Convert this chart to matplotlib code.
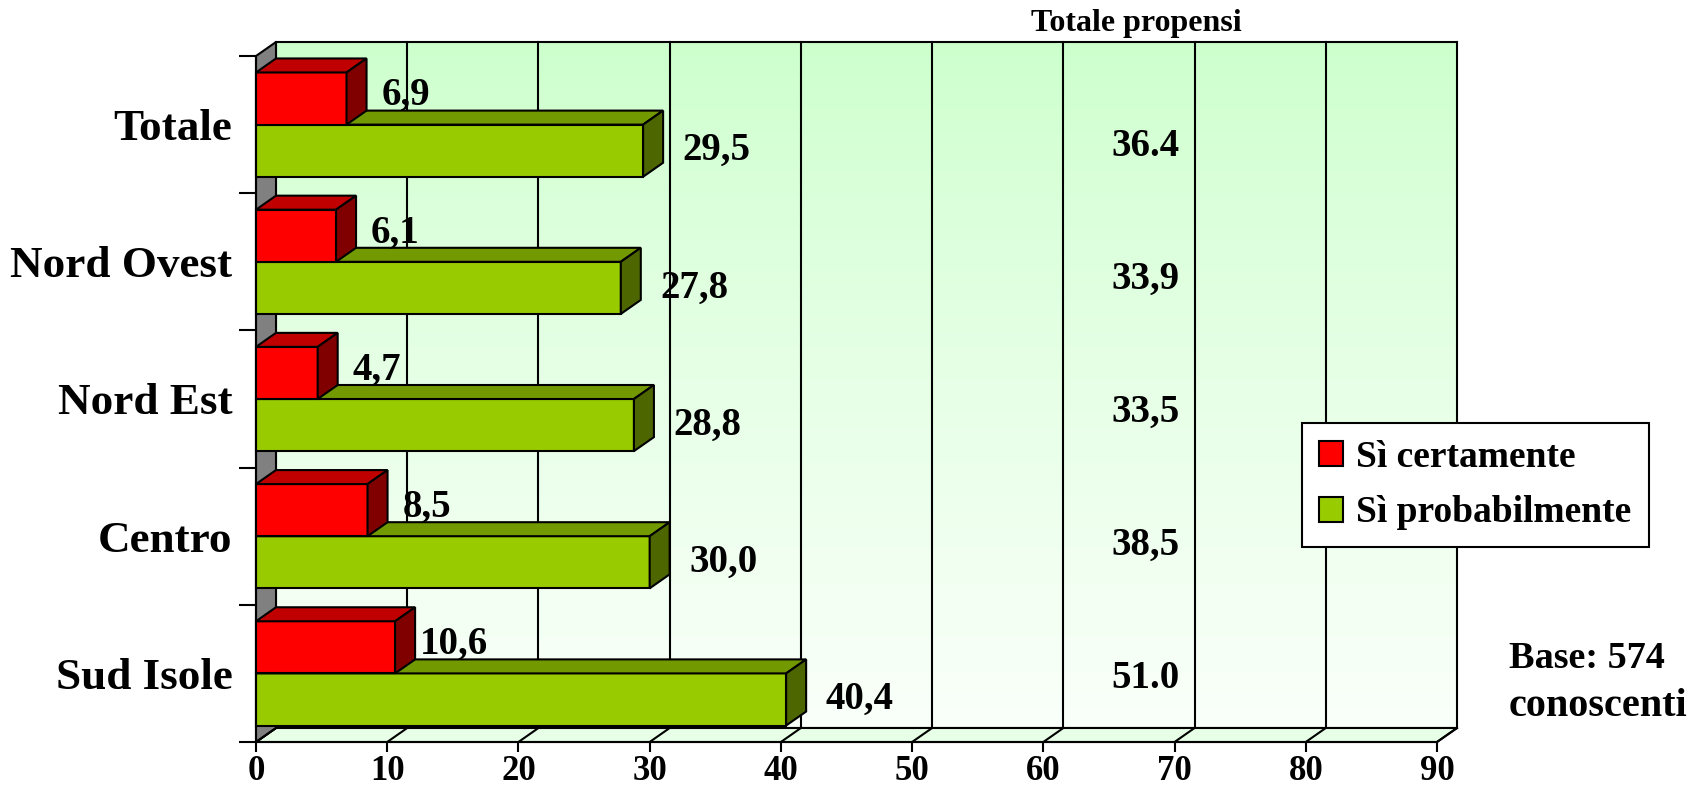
import matplotlib
matplotlib.use("Agg")
import matplotlib.pyplot as plt
import numpy as np
from matplotlib.patches import Polygon, Patch

# data (top to bottom)
categories = ["Totale", "Nord Ovest", "Nord Est", "Centro", "Sud Isole"]
si_certamente = [6.9, 6.1, 4.7, 8.5, 10.6]
si_probabilmente = [29.5, 27.8, 28.8, 30.0, 40.4]
totale_propensi = ["36.4", "33,9", "33,5", "38,5", "51.0"]
x_ticks = [0, 10, 20, 30, 40, 50, 60, 70, 80, 90]

plt.rcParams['font.family'] = ['Liberation Serif', 'DejaVu Serif']
plt.rcParams['font.weight'] = 'bold'

W, H = 1701, 797
fig = plt.figure(figsize=(W / 100, H / 100), dpi=100)

# front plane in pixels, plus 3D depth offset
x0_px, x90_px = 256, 1437
ybot_px, ytop_px = 742, 56
dx_px, dy_px = 20, 14
n = len(categories)
sx = (x90_px - x0_px) / 90.0
sy = (ybot_px - ytop_px) / n
ddx = dx_px / sx
ddy = dy_px / sy

ax = fig.add_axes([x0_px / W, (H - ybot_px) / H,
                   (x90_px + dx_px - x0_px) / W, (ybot_px - ytop_px + dy_px) / H])
ax.set_xlim(0, 90 + ddx)
ax.set_ylim(0, n + ddy)
for s in ax.spines.values():
    s.set_visible(False)
ax.patch.set_visible(False)

lw = 1.5
K = "black"

# back wall with gradient
grad = np.linspace(0, 1, 256).reshape(-1, 1)
top_c = np.array([0.80, 1.0, 0.80])
bot_c = np.array([0.98, 1.0, 0.98])
img = top_c * (1 - grad[..., None] ** 0.8) + bot_c * (grad[..., None] ** 0.8)
img = img[::-1]
ax.imshow(img, extent=(ddx, 90 + ddx, ddy, n + ddy), aspect="auto",
          origin="lower", zorder=0, clip_on=False)

# back wall grid lines and border
for xv in x_ticks:
    ax.plot([xv + ddx, xv + ddx], [ddy, n + ddy], color=K, lw=lw, zorder=1, clip_on=False)
ax.plot([ddx, 90 + ddx], [n + ddy, n + ddy], color=K, lw=lw, zorder=1, clip_on=False)
ax.plot([ddx, 90 + ddx], [ddy, ddy], color=K, lw=lw, zorder=1, clip_on=False)

# floor
floor = Polygon([(0, 0), (90, 0), (90 + ddx, ddy), (ddx, ddy)], closed=True,
                facecolor="#E6FFE6", edgecolor=K, lw=lw, zorder=1.5, clip_on=False)
ax.add_patch(floor)
for xv in x_ticks:
    ax.plot([xv, xv + ddx], [0, ddy], color=K, lw=lw, zorder=1.6, clip_on=False)

# left side wall
side = Polygon([(0, 0), (ddx, ddy), (ddx, n + ddy), (0, n)], closed=True,
               facecolor="#808080", edgecolor=K, lw=lw, zorder=1.5, clip_on=False)
ax.add_patch(side)


def box(x, y, w, h, front, top, right, z):
    ax.add_patch(Polygon([(x, y), (x + w, y), (x + w, y + h), (x, y + h)],
                         facecolor=front, edgecolor=K, lw=lw, zorder=z, clip_on=False))
    ax.add_patch(Polygon([(x, y + h), (x + w, y + h), (x + w + ddx, y + h + ddy), (x + ddx, y + h + ddy)],
                         facecolor=top, edgecolor=K, lw=lw, zorder=z, clip_on=False))
    ax.add_patch(Polygon([(x + w, y), (x + w + ddx, y + ddy), (x + w + ddx, y + h + ddy), (x + w, y + h)],
                         facecolor=right, edgecolor=K, lw=lw, zorder=z, clip_on=False))


bar_h = 0.38
label_fs = 28
for i, cat in enumerate(categories):
    c = n - 0.5 - i
    g = si_probabilmente[i]
    r = si_certamente[i]
    box(0, c - bar_h, g, bar_h, "#99CC00", "#739900", "#4D6600", 3 + i * 0.1)
    box(0, c, r, bar_h, "#FF0000", "#C00000", "#800000", 3.05 + i * 0.1)
    ax.text(r + 4.5, c + 0.21, f"{r:.1f}".replace(".", ","), ha="center", va="center",
            fontsize=label_fs, fontweight="bold", zorder=6)
    ax.text(g + 5.6, c - bar_h / 2, f"{g:.1f}".replace(".", ","), ha="center", va="center",
            fontsize=label_fs, fontweight="bold", zorder=6)
    ax.text(67.8, c - 0.16 + 0.03 * i, totale_propensi[i], ha="center", va="center",
            fontsize=label_fs, fontweight="bold", zorder=6)

ax.text(67.1, n + ddy + 0.03, "Totale propensi", ha="center", va="bottom",
        fontsize=23, fontweight="bold")

# front axis lines
ax.plot([0, 90], [0, 0], color=K, lw=lw, zorder=7, clip_on=False)
ax.plot([0, 0], [0, n], color=K, lw=lw, zorder=7, clip_on=False)

ax.set_xticks(x_ticks)
ax.set_xticklabels([str(v) for v in x_ticks], fontsize=25, fontweight="bold")
ax.tick_params(axis="x", direction="out", length=7.5, width=lw, pad=2)
ax.set_yticks(range(n + 1))
ax.set_yticklabels([])
ax.tick_params(axis="y", which="major", direction="out", length=12, width=lw)
ax.set_yticks([n - 0.5 - i for i in range(n)], minor=True)
ax.set_yticklabels(categories, minor=True, fontsize=32.5, fontweight="bold")
ax.tick_params(axis="y", which="minor", length=0, pad=17)

leg = ax.legend(handles=[Patch(facecolor="#FF0000", edgecolor=K, lw=lw, label="Sì certamente"),
                         Patch(facecolor="#99CC00", edgecolor=K, lw=lw, label="Sì probabilmente")],
                loc="upper left", bbox_to_anchor=(1302 / W, 1 - 423 / H),
                bbox_transform=fig.transFigure, borderaxespad=0, fancybox=False,
                prop={"size": 27, "weight": "bold"}, handlelength=0.65, handleheight=0.65,
                handletextpad=0.35, labelspacing=0.55, borderpad=0.45, framealpha=1)
leg.get_frame().set_edgecolor(K)
leg.get_frame().set_linewidth(lw)
leg.set_zorder(10)

fig.text(1509 / W, 1 - 658 / H, "Base: 574", ha="left", va="center", fontsize=27.5, fontweight="bold")
fig.text(1509 / W, 1 - 707 / H, "conoscenti", ha="left", va="center", fontsize=29, fontweight="bold")

fig.savefig("out.png", dpi=100)
